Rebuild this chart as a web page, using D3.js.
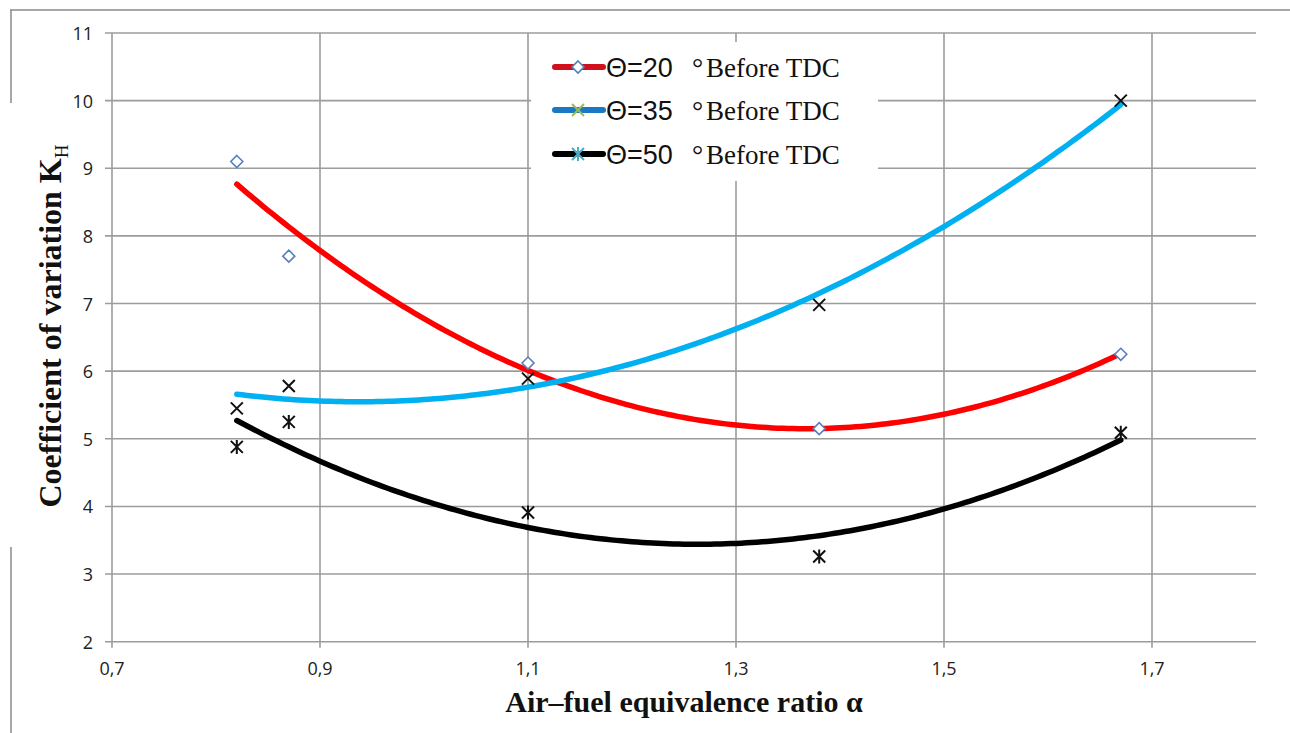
<!DOCTYPE html>
<html>
<head>
<meta charset="utf-8">
<script src="https://cdn.jsdelivr.net/npm/d3@7/dist/d3.min.js"></script>
<style>
  body { margin: 0; background: #fff; }
  svg { display: block; }
</style>
</head>
<body>
<div id="chart"></div>
<script>
// Data
const alpha = [0.82, 0.87, 1.1, 1.38, 1.67]
const k20 = [9.1, 7.7, 6.12, 5.15, 6.25]
const k35 = [5.45, 5.78, 5.89, 6.98, 10.0]
const k50 = [4.88, 5.25, 3.91, 3.26, 5.09]

const xTicks = [0.7, 0.9, 1.1, 1.3, 1.5, 1.7]
const yTicks = [2, 3, 4, 5, 6, 7, 8, 9, 10, 11]

const seriesNames = ["Θ=20", "Θ=35", "Θ=50"]

const SERIES = [
  { name: seriesNames[0], values: k20, curve: "#ff0000", legendLine: "#d0101c", marker: "diamond", markerColor: "#5a7fbd", legendMarker: "#4f81bd" },
  { name: seriesNames[1], values: k35, curve: "#00b0f0", legendLine: "#1b78c2", marker: "cross", markerColor: "#111", legendMarker: "#9bbb59" },
  { name: seriesNames[2], values: k50, curve: "#000000", legendLine: "#000000", marker: "star", markerColor: "#111", legendMarker: "#4bacc6" }
]

const width = 1290
const height = 733

const x = d3.scaleLinear().domain([0.7, 1.8]).range([112, 1256])
const y = d3.scaleLinear().domain([2, 11]).range([641.7, 33])

// 2nd order least squares trendline (same as the spreadsheet trendline)
function polyFit2(xs, ys) {
  const n = xs.length
  const s = [0, 0, 0, 0, 0]
  const t = [0, 0, 0]
  for (let i = 0; i < n; i++) {
    let p = 1
    for (let k = 0; k < 5; k++) { s[k] += p; if (k < 3) t[k] += p * ys[i]; p *= xs[i] }
  }
  const m = [
    [s[0], s[1], s[2], t[0]],
    [s[1], s[2], s[3], t[1]],
    [s[2], s[3], s[4], t[2]]
  ]
  for (let c = 0; c < 3; c++) {
    for (let r = c + 1; r < 3; r++) {
      const f = m[r][c] / m[c][c]
      for (let k = c; k < 4; k++) m[r][k] -= f * m[c][k]
    }
  }
  const coef = [0, 0, 0]
  for (let r = 2; r >= 0; r--) {
    let v = m[r][3]
    for (let k = r + 1; k < 3; k++) v -= m[r][k] * coef[k]
    coef[r] = v / m[r][r]
  }
  return xv => coef[0] + coef[1] * xv + coef[2] * xv * xv
}

const svg = d3.select("#chart").append("svg")
  .attr("width", width)
  .attr("height", height)

// Outer frame remnants
const frame = svg.append("g").attr("stroke", "#8a8a8a").attr("stroke-width", 1.5)
frame.append("line").attr("x1", 10).attr("x2", width).attr("y1", 10).attr("y2", 10)
frame.append("line").attr("x1", 11).attr("x2", 11).attr("y1", 10).attr("y2", 103)
frame.append("line").attr("x1", 11).attr("x2", 11).attr("y1", 547).attr("y2", height)

// Grid
const grid = svg.append("g").attr("stroke", "#9c9c9c").attr("stroke-width", 1.6)
grid.selectAll(".h").data(yTicks).join("line")
  .attr("x1", 105).attr("x2", x(1.8))
  .attr("y1", d => y(d)).attr("y2", d => y(d))
grid.selectAll(".v").data(xTicks).join("line")
  .attr("x1", d => x(d)).attr("x2", d => x(d))
  .attr("y1", y(11)).attr("y2", y(2) + 6)

// Tick labels
svg.append("g").selectAll("text").data(yTicks).join("text")
  .attr("x", 93).attr("y", d => y(d))
  .attr("text-anchor", "end").attr("dominant-baseline", "central")
  .attr("font-family", "'Open Sans', sans-serif").attr("font-size", 18)
  .attr("fill", "#222")
  .text(d => d)

svg.append("g").selectAll("text").data(xTicks).join("text")
  .attr("x", d => x(d)).attr("y", 675)
  .attr("text-anchor", "middle")
  .attr("font-family", "'Open Sans', sans-serif").attr("font-size", 18)
  .attr("fill", "#222")
  .text(d => d3.format(".1f")(d).replace(".", ","))

// Axis titles
svg.append("text")
  .attr("x", 684).attr("y", 712)
  .attr("text-anchor", "middle")
  .attr("font-family", "'Liberation Serif', 'Times New Roman', serif")
  .attr("font-size", 30)
  .attr("font-weight", "bold")
  .attr("fill", "#111")
  .text("Air–fuel equivalence ratio α")

const yTitle = svg.append("text")
  .attr("transform", "translate(61,326) rotate(-90)")
  .attr("text-anchor", "middle")
  .attr("font-family", "'Liberation Serif', 'Times New Roman', serif")
  .attr("font-size", 32)
  .attr("font-weight", "bold")
  .attr("fill", "#111")
yTitle.append("tspan").text("Coefficient of variation K")
yTitle.append("tspan").attr("font-size", 19).attr("font-weight", "normal").attr("dy", 7).text("H")

// Trend curves
const line = d3.line().x(d => x(d[0])).y(d => y(d[1])).curve(d3.curveLinear)
const xs = d3.range(alpha[0], alpha[alpha.length - 1] + 1e-9, 0.005)
SERIES.forEach(s => {
  const f = polyFit2(alpha, s.values)
  svg.append("path")
    .datum(xs.map(v => [v, f(v)]))
    .attr("fill", "none")
    .attr("stroke", s.curve)
    .attr("stroke-width", 5.5)
    .attr("stroke-linecap", "round")
    .attr("d", line)
})

function drawMarker(g, type, color, r) {
  if (type === "diamond") {
    g.append("path")
      .attr("d", `M0,${-r}L${r},0L0,${r}L${-r},0Z`)
      .attr("fill", "#fff").attr("stroke", color).attr("stroke-width", 1.6)
  } else {
    g.append("path")
      .attr("d", `M${-r},${-r}L${r},${r}M${-r},${r}L${r},${-r}` + (type === "star" ? `M0,${-r - 1}L0,${r + 1}` : ""))
      .attr("fill", "none").attr("stroke", color).attr("stroke-width", 2)
  }
}

// Data markers
SERIES.forEach(s => {
  svg.append("g").selectAll("g").data(alpha.map((a, i) => [a, s.values[i]])).join("g")
    .attr("transform", d => `translate(${x(d[0])},${y(d[1])})`)
    .each(function() {
      drawMarker(d3.select(this), s.marker, s.markerColor, 6)
    })
})

// Legend
const legend = svg.append("g")
legend.append("rect")
  .attr("x", 531).attr("y", 42).attr("width", 347).attr("height", 139)
  .attr("fill", "#fff")
const rowY = [67, 110, 154]
SERIES.forEach((s, i) => {
  const row = legend.append("g").attr("transform", `translate(0,${rowY[i]})`)
  row.append("line")
    .attr("x1", 555).attr("x2", 603).attr("y1", 0).attr("y2", 0)
    .attr("stroke", s.legendLine).attr("stroke-width", 6).attr("stroke-linecap", "round")
  const mg = row.append("g").attr("transform", "translate(578,0)")
  drawMarker(mg, s.marker, s.legendMarker, 6)
  const t = row.append("text").attr("y", 10).attr("fill", "#111")
  t.append("tspan").attr("x", 606)
    .attr("font-family", "'Liberation Sans', Arial, sans-serif").attr("font-size", 27)
    .text(s.name)
  t.append("tspan").attr("x", 692)
    .attr("font-family", "'Liberation Serif', serif").attr("font-size", 28)
    .text("°")
  t.append("tspan").attr("x", 706)
    .attr("font-family", "'Liberation Serif', serif").attr("font-size", 27)
    .text("Before TDC")
})
</script>
</body>
</html>
